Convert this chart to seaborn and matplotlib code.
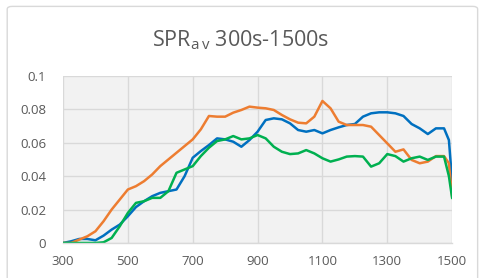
import numpy as np
import pandas as pd
import matplotlib
matplotlib.use("Agg")
import matplotlib.pyplot as plt
import seaborn as sns
from matplotlib.patches import FancyBboxPatch

# ─────────────────────────────────────────────
#  Data
# ─────────────────────────────────────────────

time_s = [300, 325, 350, 375, 400, 425, 450, 475, 500, 525, 550, 575, 600, 625,
          650, 675, 700, 725, 750, 775, 800, 825, 850, 875, 900, 925, 950, 975,
          1000, 1025, 1050, 1075, 1100, 1125, 1150, 1175, 1200, 1225, 1250, 1275,
          1300, 1325, 1350, 1375, 1400, 1425, 1450, 1475, 1490, 1500]

spr_blue = [0.000, 0.001, 0.0024, 0.0024, 0.0016, 0.0044, 0.008, 0.011, 0.016,
            0.0215, 0.025, 0.028, 0.030, 0.031, 0.032, 0.040, 0.051, 0.055,
            0.0586, 0.0626, 0.062, 0.0606, 0.0576, 0.0616, 0.0666, 0.0736,
            0.0746, 0.074, 0.0716, 0.0676, 0.0666, 0.0676, 0.0656, 0.0676,
            0.0692, 0.0706, 0.0712, 0.0756, 0.0776, 0.0782, 0.0782, 0.0776,
            0.076, 0.0712, 0.0686, 0.0652, 0.0686, 0.0686, 0.0616, 0.0368]

spr_orange = [0.000, 0.000, 0.002, 0.004, 0.007, 0.013, 0.020, 0.026, 0.032,
              0.034, 0.037, 0.041, 0.046, 0.050, 0.054, 0.058, 0.062, 0.068,
              0.076, 0.0756, 0.0756, 0.078, 0.0796, 0.0816, 0.081, 0.0806,
              0.0796, 0.0766, 0.074, 0.072, 0.0716, 0.0756, 0.085, 0.0806,
              0.0726, 0.0706, 0.0706, 0.0706, 0.0696, 0.0646, 0.0596, 0.0546,
              0.056, 0.0497, 0.0477, 0.0487, 0.052, 0.052, 0.0477, 0.0278]

spr_green = [0.000, 0.000, 0.000, 0.000, 0.000, 0.0004, 0.003, 0.010, 0.018,
             0.024, 0.025, 0.027, 0.027, 0.031, 0.042, 0.044, 0.046, 0.052,
             0.057, 0.061, 0.062, 0.064, 0.062, 0.0626, 0.0646, 0.0626, 0.0576,
             0.0546, 0.0532, 0.0536, 0.0556, 0.0536, 0.0507, 0.0487, 0.050,
             0.0517, 0.052, 0.0517, 0.0457, 0.0477, 0.0532, 0.052, 0.0487,
             0.0507, 0.0517, 0.0497, 0.0517, 0.0517, 0.040, 0.0268]

series_names = ["blue", "orange", "green"]
series_colors = ["#0070C0", "#ED7D31", "#00B050"]

x_ticks = [300, 500, 700, 900, 1100, 1300, 1500]
y_ticks = [0, 0.02, 0.04, 0.06, 0.08, 0.1]
y_tick_labels = ["0", "0.02", "0.04", "0.06", "0.08", "0.1"]

# ─────────────────────────────────────────────
#  Long-form table for seaborn
# ─────────────────────────────────────────────

df = pd.concat([
    pd.DataFrame({"time": time_s, "spr": vals, "series": name})
    for name, vals in zip(series_names, [spr_blue, spr_orange, spr_green])
])

# ─────────────────────────────────────────────
#  Plot
# ─────────────────────────────────────────────

sns.set_theme(style="white")
plt.rcParams["font.family"] = ["Open Sans", "DejaVu Sans"]
text_grey = "#595959"
grid_grey = "#D9D9D9"

fig = plt.figure(figsize=(4.81, 2.78), dpi=100)
ax = fig.add_axes([0.131, 0.126, 0.809, 0.601])
ax.set_facecolor("#F2F2F2")

sns.lineplot(data=df, x="time", y="spr", hue="series", hue_order=series_names,
             palette=series_colors, linewidth=1.8, legend=False, ax=ax)

ax.set_xlim(300, 1500)
ax.set_ylim(0, 0.1)
ax.set_xticks(x_ticks)
ax.set_xticklabels([str(t) for t in x_ticks])
ax.set_yticks(y_ticks)
ax.set_yticklabels(y_tick_labels)
ax.grid(True, color=grid_grey, linewidth=1.0)
ax.set_axisbelow(True)
ax.set_xlabel("")
ax.set_ylabel("")
ax.tick_params(axis="both", length=0, labelsize=9.5, labelcolor=text_grey)
ax.tick_params(axis="x", pad=9)
ax.tick_params(axis="y", pad=12)
for side in ["top", "right", "left"]:
    ax.spines[side].set_visible(False)
ax.spines["bottom"].set_color(grid_grey)
ax.spines["bottom"].set_linewidth(1.0)

fig.text(0.5, 0.855, r"SPR$_{\mathregular{a\,v}}$ 300s-1500s", ha="center",
         va="center", fontsize=15.5, color=text_grey)

# light chart-area border
fig.patches.append(FancyBboxPatch((0.015, -0.02), 0.978, 0.997,
                                  boxstyle="round,pad=0,rounding_size=0.01",
                                  transform=fig.transFigure, fill=False,
                                  edgecolor=grid_grey, linewidth=1.0))

fig.savefig("out.png", dpi=100)
plt.close(fig)
